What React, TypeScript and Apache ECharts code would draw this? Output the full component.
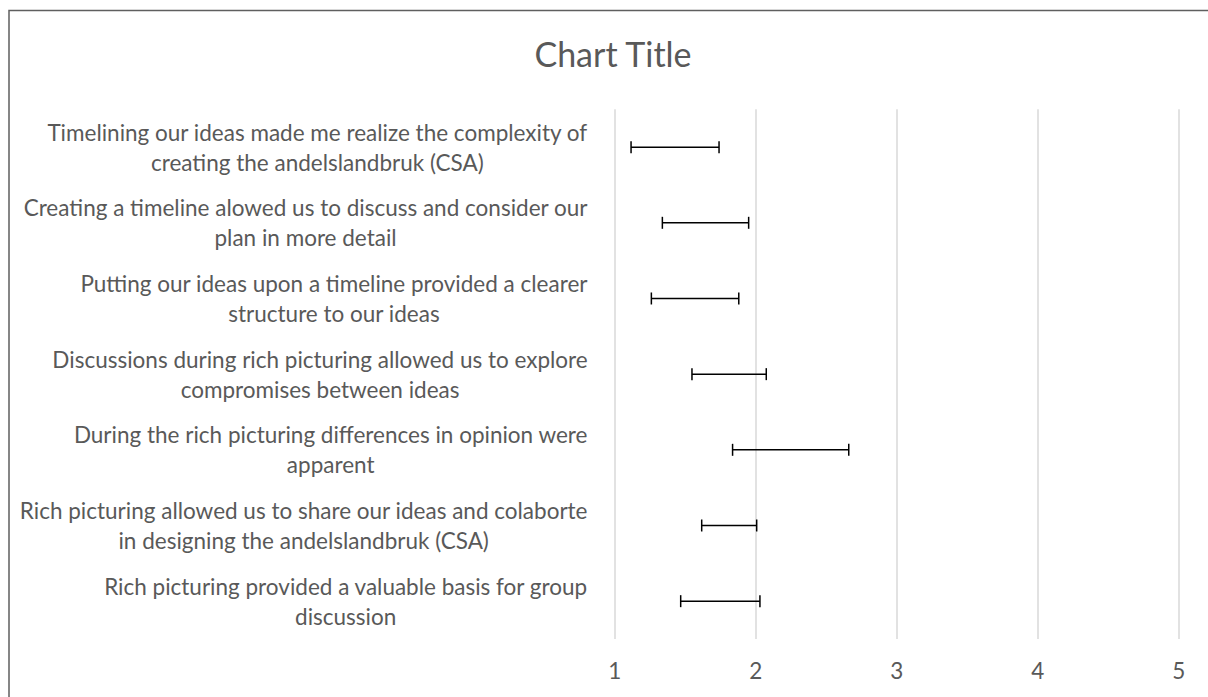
import React, { useEffect, useRef } from "react";
import * as echarts from "echarts";

const categories: string[] = [
  "Timelining our ideas made me realize the complexity of\ncreating the andelslandbruk (CSA)",
  "Creating a timeline alowed us to discuss and consider our\nplan in more detail",
  "Putting our ideas upon a timeline provided a clearer\nstructure to our ideas",
  "Discussions during rich picturing allowed us to explore\ncompromises between ideas",
  "During the rich picturing differences in opinion were\napparent",
  "Rich picturing allowed us to share our ideas and colaborte\nin designing the andelslandbruk (CSA)",
  "Rich picturing provided a valuable basis for group\ndiscussion",
];
const lowValues: number[] = [1.116, 1.338, 1.26, 1.548, 1.836, 1.617, 1.468];
const highValues: number[] = [1.74, 1.95, 1.88, 2.075, 2.66, 2.007, 2.03];
const xTicks: number[] = [1, 2, 3, 4, 5];

const FONT = "Lato";
const GREY = "#595959";

export default function App() {
  const ref = useRef<HTMLDivElement>(null);
  useEffect(() => {
    document.body.style.margin = "0";
    if (!ref.current) return;
    const chart = echarts.init(ref.current, undefined, { renderer: "svg" });
    const data = categories.map((_, i) => [i, lowValues[i], highValues[i]]);
    chart.setOption({
      animation: false,
      backgroundColor: "#fff",
      title: {
        text: "Chart Title",
        left: 608,
        textAlign: "center",
        top: 31,
        textStyle: { fontFamily: FONT, fontSize: 34, fontWeight: "normal", color: GREY },
      },
      graphic: [
        {
          type: "rect",
          shape: { x: 9, y: 10.5, width: 1400, height: 900 },
          style: { fill: "none", stroke: "#5f5f5f", lineWidth: 1.5 },
          silent: true,
        },
      ],
      grid: { left: 614.7, right: 29.3, top: 109.3, bottom: 58 },
      xAxis: {
        type: "value",
        min: xTicks[0],
        max: xTicks[xTicks.length - 1],
        interval: 1,
        axisLine: { show: false },
        axisTick: { show: false },
        splitLine: { show: true, lineStyle: { color: "#d9d9d9", width: 1.5 } },
        axisLabel: { fontFamily: FONT, fontSize: 22.5, color: GREY, margin: 20 },
      },
      yAxis: {
        type: "category",
        data: categories,
        inverse: true,
        axisLine: { show: false },
        axisTick: { show: false },
        splitLine: { show: false },
        axisLabel: {
          margin: 27,
          align: "right",
          fontFamily: FONT,
          fontSize: 22.5,
          color: GREY,
          lineHeight: 30,
          formatter: (v: string) =>
            v
              .split("\n")
              .map((l) => "{c|" + l + "}")
              .join("\n"),
          rich: {
            c: { align: "center", fontFamily: FONT, fontSize: 22.5, color: GREY, lineHeight: 30 },
          },
        },
      },
      series: [
        {
          type: "custom",
          data,
          encode: { x: [1, 2], y: 0 },
          renderItem: (params: any, api: any) => {
            const lo = api.coord([api.value(1), api.value(0)]);
            const hi = api.coord([api.value(2), api.value(0)]);
            const h = 6;
            const style = { stroke: "#000", lineWidth: 1.5 };
            return {
              type: "group",
              children: [
                { type: "line", shape: { x1: lo[0], y1: lo[1], x2: hi[0], y2: hi[1] }, style },
                { type: "line", shape: { x1: lo[0], y1: lo[1] - h, x2: lo[0], y2: lo[1] + h }, style },
                { type: "line", shape: { x1: hi[0], y1: hi[1] - h, x2: hi[0], y2: hi[1] + h }, style },
              ],
            };
          },
        },
      ],
    });
    return () => chart.dispose();
  }, []);
  return <div ref={ref} style={{ width: 1208, height: 697 }} />;
}
